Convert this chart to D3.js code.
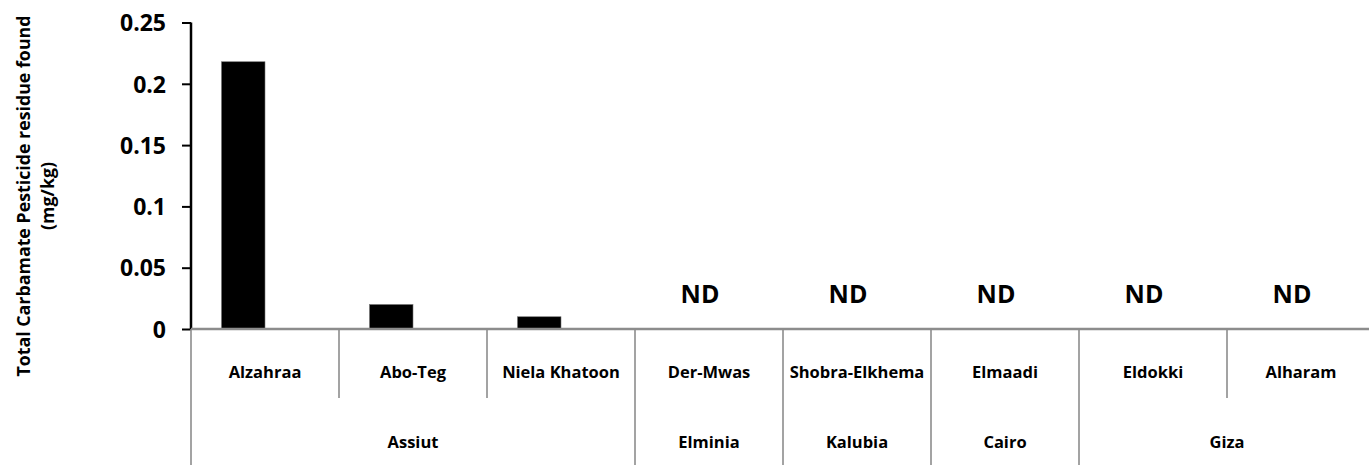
<!DOCTYPE html>
<html lang="en">
<head>
<meta charset="UTF-8">
<title>Total Carbamate Pesticide residue</title>
<script src="https://cdn.jsdelivr.net/npm/d3@7/dist/d3.min.js"></script>
<style>
  body { margin: 0; background: #fff; }
  svg { display: block; font-family: "Open Sans", sans-serif; font-weight: bold; }
  .ytick text { font-size: 23px; font-family: "Open Sans", sans-serif; }
  .cat { font-size: 16.5px; }
  .nd { font-size: 25px; }
  .ytitle { font-size: 17.8px; }
</style>
</head>
<body>
<script>
  // data
  let sites   = ["Alzahraa", "Abo-Teg", "Niela Khatoon", "Der-Mwas", "Shobra-Elkhema", "Elmaadi", "Eldokki", "Alharam"];
  let regions = ["Assiut", "Assiut", "Assiut", "Elminia", "Kalubia", "Cairo", "Giza", "Giza"];
  let residue = [0.218, 0.02, 0.01, null, null, null, null, null];   // null = not detected
  let yTicks  = [0, 0.05, 0.1, 0.15, 0.2, 0.25];
  let slots   = ["residue", "empty"];

  let width = 1369, height = 465;
  let plotLeft = 191, plotRight = 1375, plotTop = 22.5, base = 329;

  let svg = d3.select('body').append('svg')
      .attr('width', width)
      .attr('height', height);

  let x = d3.scaleBand().domain(sites).range([plotLeft, plotRight]);
  let xs = d3.scaleBand().domain(slots).range([0, x.bandwidth()]).paddingOuter(0.7);
  let y = d3.scaleLinear().domain([0, 0.25]).range([base, plotTop]);

  // bars
  svg.append('g').selectAll('rect')
      .data(sites.map((s, i) => ({site: s, v: residue[i]})).filter(d => d.v != null))
      .enter().append('rect')
      .attr('x', d => x(d.site) + xs('residue'))
      .attr('width', xs.bandwidth())
      .attr('y', d => y(d.v))
      .attr('height', d => base - y(d.v))
      .attr('fill', '#000')
      .attr('stroke', '#777')
      .attr('stroke-width', 0.6);

  // ND labels
  svg.append('g').selectAll('text')
      .data(sites.filter((s, i) => residue[i] == null))
      .enter().append('text')
      .attr('class', 'nd')
      .attr('x', d => x(d) + x.bandwidth() / 2 - 9)
      .attr('y', 303)
      .attr('text-anchor', 'middle')
      .text('ND');

  // y axis
  let yAxis = svg.append('g')
      .attr('class', 'ytick')
      .attr('transform', 'translate(' + plotLeft + ',0)')
      .call(d3.axisLeft(y).tickValues(yTicks).tickSize(9).tickPadding(16).tickFormat(d => d));
  yAxis.attr('font-family', null).attr('font-size', null);
  yAxis.select('.domain').attr('stroke', '#000').attr('stroke-width', 2.5)
      .attr('d', 'M0,' + plotTop + 'V' + base);
  yAxis.selectAll('.tick line').attr('stroke', '#000').attr('stroke-width', 2);
  yAxis.selectAll('.tick text').attr('fill', '#000').attr('dy', '0.36em');

  // category axis (two levels)
  let row1 = 398, bottom = 470;
  let grid = svg.append('g').attr('stroke', '#8c8c8c').attr('stroke-width', 1.6);

  grid.append('line').attr('x1', plotLeft).attr('x2', plotRight).attr('y1', base).attr('y2', base)
      .attr('stroke-width', 2.5);

  // dividers: full height where the region changes, top row only otherwise
  sites.forEach((s, i) => {
    let full = i === 0 || regions[i] !== regions[i - 1];
    grid.append('line')
        .attr('x1', x(s)).attr('x2', x(s))
        .attr('y1', base).attr('y2', full ? bottom : row1);
  });

  svg.append('g').selectAll('text')
      .data(sites).enter().append('text')
      .attr('class', 'cat')
      .attr('x', d => x(d) + x.bandwidth() / 2)
      .attr('y', 378)
      .attr('text-anchor', 'middle')
      .text(d => d);

  let groups = [];
  regions.forEach((r, i) => {
    let g = groups[groups.length - 1];
    if (g && g.name === r) g.last = sites[i];
    else groups.push({name: r, first: sites[i], last: sites[i]});
  });

  svg.append('g').selectAll('text')
      .data(groups).enter().append('text')
      .attr('class', 'cat')
      .attr('x', d => (x(d.first) + x(d.last) + x.bandwidth()) / 2)
      .attr('y', 448)
      .attr('text-anchor', 'middle')
      .text(d => d.name);

  // y axis title
  let title = svg.append('text')
      .attr('class', 'ytitle')
      .attr('transform', 'translate(0,196) rotate(-90)')
      .attr('text-anchor', 'middle');
  title.append('tspan').attr('x', 0).attr('y', 30).text('Total Carbamate Pesticide residue found');
  title.append('tspan').attr('x', 0).attr('y', 54).text('(mg/kg)');
</script>
</body>
</html>
